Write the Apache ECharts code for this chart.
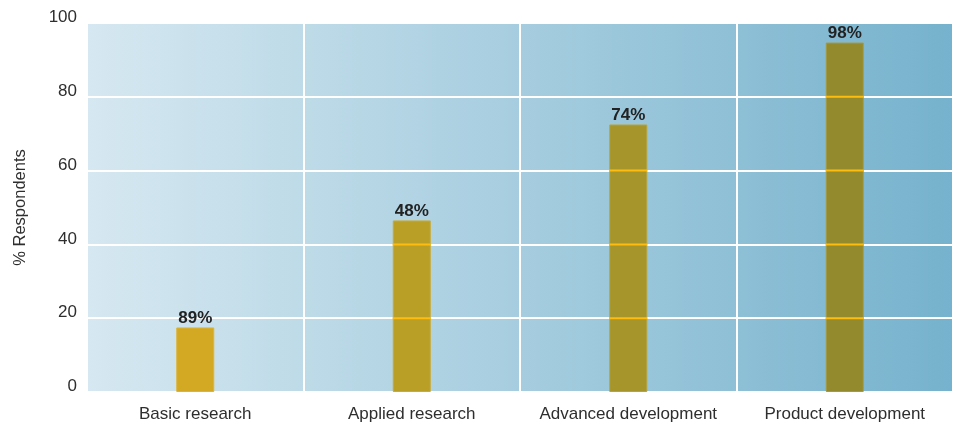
<!DOCTYPE html>
<html>
<head>
<meta charset="utf-8">
<title>% Respondents by R&amp;D stage</title>
<script src="https://cdn.jsdelivr.net/npm/echarts@6/dist/echarts.min.js"></script>
<style>
  html, body { margin: 0; padding: 0; background: #ffffff; }
  #chart { width: 953px; height: 424px; }
</style>
</head>
<body>
<div id="chart"></div>
<script>
// R&D stages on the category axis
const categories = ['Basic research', 'Applied research', 'Advanced development', 'Product development'];
// Share of respondents per stage (bar heights, % of respondents)
const values = [17.5, 46.5, 72.5, 94.7];
// Annotation printed above each bar
const barLabels = ['89%', '48%', '74%', '98%'];
// Value-axis ticks
const yTicks = [0, 20, 40, 60, 80, 100];

// Styling
const FONT = "'Liberation Sans', Arial, Helvetica, sans-serif";
const barColors = ['#D3A823', '#BA9F26', '#A5952A', '#93892D'];
const barBorders = ['#DDB43A', '#C8AB3A', '#B7A43E', '#A59A42'];
const stripeColor = '#FFBC10';
const BAR_W = 38;

const chart = echarts.init(document.getElementById('chart'), null, { renderer: 'canvas' });

chart.setOption({
  animation: false,
  textStyle: { fontFamily: FONT },
  grid: {
    left: 87, right: 0, top: 23, bottom: 32,
    show: true,
    borderWidth: 0,
    backgroundColor: {
      type: 'linear', x: 0, y: 0, x2: 1, y2: 0,
      colorStops: [
        { offset: 0, color: '#D6E8F1' },
        { offset: 1, color: '#76B2CD' }
      ]
    }
  },
  xAxis: {
    type: 'category',
    data: categories,
    axisLine: { show: false },
    axisTick: { show: false },
    axisLabel: { interval: 0, color: '#2e2e2e', fontSize: 17, fontFamily: FONT, margin: 14 },
    splitLine: { show: true, interval: 0, lineStyle: { color: '#ffffff', width: 2 } }
  },
  yAxis: {
    type: 'value',
    min: yTicks[0],
    max: yTicks[yTicks.length - 1],
    interval: yTicks[1] - yTicks[0],
    name: '% Respondents',
    nameLocation: 'middle',
    nameRotate: 90,
    nameGap: 58,
    nameTextStyle: { color: '#2e2e2e', fontSize: 16.5, fontFamily: FONT },
    axisLine: { show: false },
    axisTick: { show: false },
    axisLabel: {
      color: '#2e2e2e', fontSize: 17, fontFamily: FONT, margin: 10,
      verticalAlign: 'bottom', lineHeight: 11
    },
    splitLine: { show: true, lineStyle: { color: '#ffffff', width: 2 } }
  },
  series: [
    {
      type: 'bar',
      barWidth: BAR_W,
      z: 2,
      data: values.map((v, i) => ({
        value: v,
        itemStyle: { color: barColors[i], borderColor: barBorders[i], borderWidth: 1 }
      })),
      label: {
        show: true,
        position: 'top',
        distance: 1,
        lineHeight: 17,
        formatter: (p) => barLabels[p.dataIndex],
        color: '#222222',
        fontSize: 17,
        fontWeight: 'bold',
        fontFamily: FONT
      }
    },
    {
      // gridlines showing through each bar
      type: 'custom',
      z: 3,
      silent: true,
      data: values.map((v, i) => [i, v]),
      renderItem: function (params, api) {
        const idx = api.value(0);
        const v = api.value(1);
        const cx = api.coord([idx, 0])[0];
        const children = [];
        yTicks.forEach(function (t) {
          if (t > 0 && t < v) {
            const y = api.coord([idx, t])[1];
            children.push({
              type: 'rect',
              shape: { x: cx - BAR_W / 2, y: y - 1, width: BAR_W, height: 2 },
              style: { fill: stripeColor }
            });
          }
        });
        return { type: 'group', children: children };
      }
    }
  ]
});
</script>
</body>
</html>
